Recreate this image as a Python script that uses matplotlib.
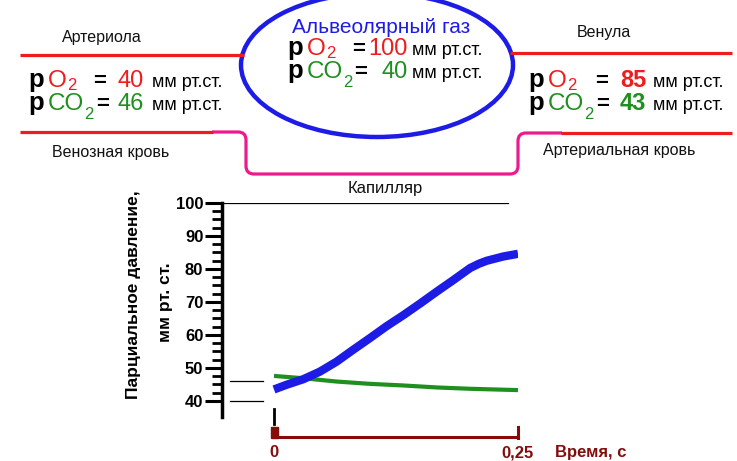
import numpy as np
import matplotlib
matplotlib.use("Agg")
import matplotlib.pyplot as plt
from matplotlib.patches import Ellipse, PathPatch, Rectangle
from matplotlib.path import Path
from matplotlib.transforms import blended_transform_factory

plt.rcParams["font.family"] = ["Liberation Sans", "DejaVu Sans"]

# --- data ---
time_o2 = [0.0, 0.0127, 0.030, 0.047, 0.064, 0.081, 0.098, 0.115, 0.133,
           0.150, 0.167, 0.184, 0.201, 0.210, 0.218, 0.235, 0.25]
po2 = [43.5, 44.9, 46.6, 48.9, 51.9, 55.5, 59.0, 62.6, 66.1,
       69.6, 73.2, 76.7, 80.3, 81.6, 82.5, 83.8, 84.6]
time_co2 = [0.0, 0.030, 0.064, 0.098, 0.133, 0.167, 0.201, 0.25]
pco2 = [47.6, 46.9, 45.9, 45.2, 44.7, 44.1, 43.7, 43.3]

y_ticks = [40, 50, 60, 70, 80, 90, 100]
time_ticks = [0, 0.25]
time_labels = ["0", "0,25"]
start_marks = [46, 40]      # short reference lines left of the curves

# gas values in the three boxes
arteriole = {"O2": "40", "CO2": "46"}
alveolar = {"O2": "100", "CO2": "40"}
venule = {"O2": "85", "CO2": "43"}

RED = "#ee1c1c"
GREEN = "#1f8f1f"
BLUE = "#1c1ce6"
PINK = "#ec1a8c"
DARKRED = "#860c0c"

W, H = 737, 461
fig = plt.figure(figsize=(W / 100, H / 100), dpi=100)

# overlay in pixel coordinates for the diagram
ax0 = fig.add_axes([0, 0, 1, 1])
ax0.set_xlim(0, W)
ax0.set_ylim(H, 0)
ax0.axis("off")

# vessels
ax0.plot([20, 244], [55, 55], color=RED, lw=2.3, solid_capstyle="butt")
ax0.plot([510, 732], [53, 53], color=RED, lw=2.3, solid_capstyle="butt")
ax0.plot([20, 213], [132, 132], color=RED, lw=2.3, solid_capstyle="butt")
ax0.plot([561, 732], [133, 133], color=RED, lw=2.3, solid_capstyle="butt")
verts = [(212, 132), (238, 132), (246, 132), (246, 140), (246, 166),
         (246, 174), (254, 174), (510, 174), (518, 174), (518, 166),
         (518, 141), (518, 133), (526, 133), (562, 133)]
codes = [Path.MOVETO, Path.LINETO, Path.CURVE3, Path.CURVE3, Path.LINETO,
         Path.CURVE3, Path.CURVE3, Path.LINETO, Path.CURVE3, Path.CURVE3,
         Path.LINETO, Path.CURVE3, Path.CURVE3, Path.LINETO]
ax0.add_patch(PathPatch(Path(verts, codes), fill=False, edgecolor=PINK, lw=2.3))
ax0.add_patch(Ellipse((377, 65), 272, 144, fill=False, edgecolor=BLUE, lw=3.2))

ax0.text(62, 42, "Артериола", fontsize=11.5, color="#111111")
ax0.text(52, 157, "Венозная кровь", fontsize=11.5, color="#111111")
ax0.text(577, 37, "Венула", fontsize=11.5, color="#111111")
ax0.text(543, 155, "Артериальная кровь", fontsize=11.5, color="#111111")
ax0.text(292, 33, "Альвеолярный газ", fontsize=15, color=BLUE)
ax0.text(348, 193, "Капилляр", fontsize=12, color="#111111")


def put(x0, y0, pieces):
    for dx, s, color, size, weight, dy in pieces:
        ax0.text(x0 + dx, y0 + dy, s, color=color, fontsize=size,
                 fontweight=weight, va="baseline", ha="left")


def gas_block(x0, y1, y2, vals, eq1, num1, sub2, eq2, num2, units, weight):
    put(x0, y1, [
        (0, "p", "black", 18.5, "bold", 0),
        (20, "O", RED, 17.5, "normal", 0),
        (39, "2", RED, 12, "normal", 3),
        (eq1, "=", "black", 16, "bold", 0),
        (num1, vals["O2"], RED, 17, weight, 0),
        (units, "мм рт.ст.", "black", 13, "normal", 0),
    ])
    put(x0, y2, [
        (0, "p", "black", 18.5, "bold", 0),
        (20, "CO", GREEN, 17.5, "normal", 0),
        (sub2, "2", GREEN, 12, "normal", 9),
        (eq2, "=", "black", 16, "bold", 0),
        (num2, vals["CO2"], GREEN, 17, weight, 0),
        (units, "мм рт.ст.", "black", 13, "normal", 0),
    ])


gas_block(28, 87, 110, arteriole, 65, 90, 56, 68, 90, 124, "normal")
gas_block(287, 55, 78, alveolar, 65, 81, 56, 67, 95, 125, "normal")
gas_block(528, 87, 110, venule, 67, 92, 56, 68, 92, 125, "bold")

# --- chart ---
L, R, T, B = 222, 518, 203, 417
x_zero = 274
px_per_t = (R - x_zero) / 0.25
px_per_v = (401 - T) / 60.0
ax = fig.add_axes([L / W, (H - B) / H, (R - L) / W, (B - T) / H])
ax.set_facecolor("none")
ax.set_xlim(-(x_zero - L) / px_per_t, 0.25)
ax.set_ylim(40 - (B - 401) / px_per_v, 100)
for s in ["top", "right", "bottom"]:
    ax.spines[s].set_visible(False)
ax.spines["left"].set_linewidth(2.5)
ax.set_xticks([])
ax.set_yticks(y_ticks)
ax.set_yticks(np.arange(40, 100.1, 2.5), minor=True)
ax.tick_params(axis="y", which="major", direction="out", length=12, width=2.2,
               pad=1.5, labelsize=12)
ax.tick_params(axis="y", which="minor", direction="out", length=7.5, width=2)
for lab in ax.get_yticklabels():
    lab.set_fontweight("bold")

ax.plot([ax.get_xlim()[0], 0.24], [100, 100], color="black", lw=0.9)
for v in start_marks:
    ax.plot([-0.045, -0.0113], [v, v], color="black", lw=0.9)

ax.plot(time_co2, pco2, color=GREEN, lw=3, solid_capstyle="butt", zorder=3)
ax.plot(time_o2, po2, color=BLUE, lw=6, solid_capstyle="butt",
        solid_joinstyle="round", zorder=4)

# axis title, two lines placed in pixels
ax0.text(138, 295, "Парциальное давление,", rotation=90, fontsize=12.5,
         fontweight="bold", ha="center", va="baseline", rotation_mode="anchor")
ax0.text(170, 302, "мм рт. ст.", rotation=90, fontsize=12.5,
         fontweight="bold", ha="center", va="baseline", rotation_mode="anchor")

# time axis drawn in pixel y, data x
tr = blended_transform_factory(ax.transData, ax0.transData)
ax0.plot([time_ticks[0], time_ticks[0]], [409, 424], color="black", lw=2, transform=tr)
ax0.plot(time_ticks, [437, 437], color=DARKRED, lw=2.2, transform=tr)
ax0.plot([time_ticks[1], time_ticks[1]], [427, 438], color=DARKRED, lw=2.2, transform=tr)
ax0.add_patch(Rectangle((time_ticks[0] - 3 / px_per_t, 427), 7 / px_per_t, 11,
                        color=DARKRED, transform=tr))
for t, lab in zip(time_ticks, time_labels):
    ax0.text(t, 457, lab, color=DARKRED, fontsize=12, fontweight="bold",
             ha="center", va="baseline", transform=tr)
ax0.text(555, 457, "Время, с", color=DARKRED, fontsize=12, fontweight="bold",
         va="baseline")

fig.savefig("out.png", dpi=100)
